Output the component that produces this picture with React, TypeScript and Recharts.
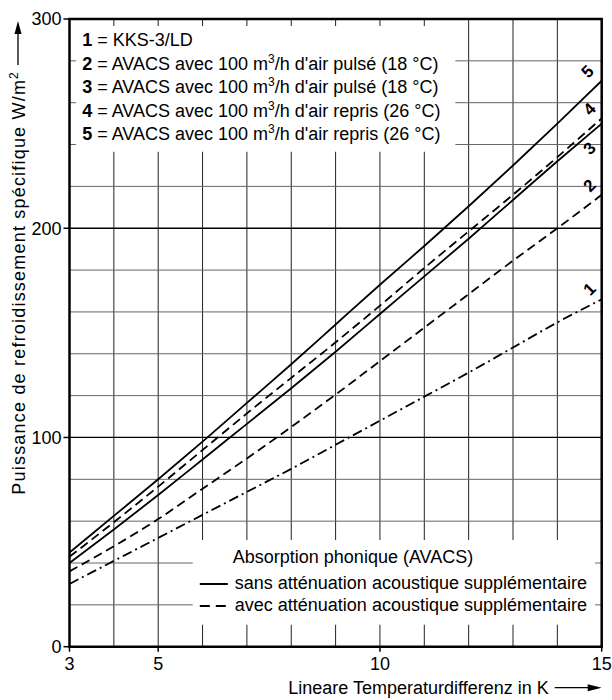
import React from 'react';
import { LineChart, Line, XAxis, YAxis, ReferenceLine, ReferenceArea, LabelList, CartesianGrid } from 'recharts';

// ---- data ----
const tempDiff = [3, 4, 5, 6, 7, 8, 9, 10, 11, 12, 13, 14, 15];
const curve1 = [30, 41, 52, 63, 74, 85, 96.5, 108, 119.5, 131, 143, 155, 166];
const curve2 = [36, 48, 61, 75.5, 90, 105, 120.5, 136.5, 152.5, 168.5, 184.5, 200, 216];
const curve3 = [40, 56, 72.5, 89.5, 106.5, 123.5, 141, 159, 177, 195, 213.5, 232, 250];
const curve4 = [43, 59.5, 76.5, 94, 111.5, 128.5, 145.5, 163, 181, 198.5, 216, 234, 252.5];
const curve5 = [45, 62.5, 80, 98, 116.5, 135, 154, 173, 191.5, 210.5, 230, 250, 270.5];

const xTicks = [3, 5, 10, 15];
const yTicks = [0, 100, 200, 300];
const gridX = [4, 5, 6, 7, 8, 9, 10, 11, 12, 13, 14];
const gridY = [20, 40, 60, 80, 120, 140, 160, 180, 220, 240, 260, 280];
const majorY = [100, 200];

const legendNumbers = ['1', '2', '3', '4', '5'];
const legendPre = ['KKS-3/LD', 'AVACS avec 100 m', 'AVACS avec 100 m', 'AVACS avec 100 m', 'AVACS avec 100 m'];
const legendSup = ['', '3', '3', '3', '3'];
const legendPost = ['', "/h d'air pulsé (18 °C)", "/h d'air pulsé (18 °C)", "/h d'air repris (26 °C)", "/h d'air repris (26 °C)"];
const absTitle = 'Absorption phonique (AVACS)';
const absSolid = 'sans atténuation acoustique supplémentaire';
const absDashed = 'avec atténuation acoustique supplémentaire';
const yLabel = 'Puissance de refroidissement spécifique W/m';
const xLabel = 'Lineare Temperaturdifferenz in K';

const data = tempDiff.map((t, i) => ({
  t,
  c1: curve1[i],
  c2: curve2[i],
  c3: curve3[i],
  c4: curve4[i],
  c5: curve5[i],
}));

const FONT = '"Liberation Sans", Arial, Helvetica, sans-serif';
const FS = 18;

const seriesStyle = [
  { key: 'c1', name: '1', dash: '10 4 2 4', dx: -12, dy: -10 },
  { key: 'c2', name: '2', dash: '9 5', dx: -12, dy: -9 },
  { key: 'c3', name: '3', dash: undefined, dx: -12, dy: 25 },
  { key: 'c4', name: '4', dash: '9 5', dx: -12, dy: -9 },
  { key: 'c5', name: '5', dash: undefined, dx: -14, dy: -9 },
];

const lastIndex = tempDiff.length - 1;

const makeCurveLabel = (name: string, dx: number, dy: number) => (props: any) => {
  const { x, y, index } = props;
  if (index !== lastIndex) return null;
  return (
    <text
      transform={`translate(${x + dx},${y + dy}) rotate(-45)`}
      textAnchor="middle"
      dominantBaseline="central"
      fontFamily={FONT}
      fontWeight="bold"
      fontSize={17}
      fill="#000"
    >
      {name}
    </text>
  );
};

const TopLegend = (props: any) => {
  const vb = props.viewBox || {};
  const x0 = vb.x + 6;
  const y0 = vb.y + 20;
  return (
    <g fontFamily={FONT} fontSize={FS} fill="#000">
      {legendNumbers.map((n, i) => (
        <text key={n} x={x0} y={y0 + i * 23.6}>
          <tspan fontWeight="bold">{n}</tspan>
          <tspan>{' = ' + legendPre[i]}</tspan>
          {legendSup[i] ? (
            <tspan fontSize={12} dy={-7}>{legendSup[i]}</tspan>
          ) : null}
          {legendPost[i] ? <tspan dy={legendSup[i] ? 7 : 0}>{legendPost[i]}</tspan> : null}
        </text>
      ))}
    </g>
  );
};

const BottomLegend = (props: any) => {
  const vb = props.viewBox || {};
  const x0 = vb.x;
  const y0 = vb.y;
  return (
    <g fontFamily={FONT} fontSize={FS} fill="#000">
      <text x={x0 + 40} y={y0 + 23}>{absTitle}</text>
      <line x1={x0 + 7} x2={x0 + 35} y1={y0 + 44} y2={y0 + 44} stroke="#000" strokeWidth={2} />
      <text x={x0 + 42} y={y0 + 49}>{absSolid}</text>
      <line x1={x0 + 7} x2={x0 + 35} y1={y0 + 66} y2={y0 + 66} stroke="#000" strokeWidth={2} strokeDasharray="10 6" />
      <text x={x0 + 42} y={y0 + 71}>{absDashed}</text>
    </g>
  );
};

const YAxisLabel = (props: any) => {
  const vb = props.viewBox || {};
  const cx = vb.x + 10;
  const top = vb.y;
  const textEnd = top + 52;
  const bx = cx + 7;
  return (
    <g>
      <text
        transform={`translate(${bx},${textEnd}) rotate(-90)`}
        textAnchor="end"
        fontFamily={FONT}
        fontSize={FS}
        letterSpacing={1.2}
        fill="#000"
      >
        {yLabel}
        <tspan fontSize={12} dy={-7}>2</tspan>
      </text>
      <line x1={cx} x2={cx} y1={textEnd - 6} y2={top + 10} stroke="#000" strokeWidth={1.3} />
      <path d={`M ${cx} ${top + 2} L ${cx - 3.5} ${top + 15} L ${cx + 3.5} ${top + 15} Z`} fill="#000" />
    </g>
  );
};

const XAxisLabel = (props: any) => {
  const vb = props.viewBox || {};
  const right = vb.x + vb.width;
  const base = vb.y + 47;
  return (
    <g>
      <text x={right - 53} y={base} textAnchor="end" fontFamily={FONT} fontSize={FS} fill="#000">
        {xLabel}
      </text>
      <line x1={right - 47} x2={right - 10} y1={base - 6} y2={base - 6} stroke="#000" strokeWidth={1.3} />
      <path d={`M ${right} ${base - 6} L ${right - 14} ${base - 9.5} L ${right - 14} ${base - 2.5} Z`} fill="#000" />
    </g>
  );
};

export default function App() {
  return (
    <div
      style={{
        width: 612,
        height: 700,
        boxSizing: 'border-box',
        padding: '8px 0 0 8px',
        margin: 0,
        overflow: 'hidden',
        background: '#fff',
      }}
    >
      <style>{'html,body{margin:0;padding:0;overflow:hidden;}'}</style>
      <LineChart
        width={604}
        height={692}
        data={data}
        margin={{ top: 11, right: 10.3, bottom: 0, left: 0 }}
      >
        <CartesianGrid
          horizontal={false}
          verticalValues={gridX}
          stroke="#222"
          strokeWidth={1}
          strokeOpacity={1}
        />
        <CartesianGrid
          vertical={false}
          horizontalValues={gridY}
          stroke="#666"
          strokeWidth={1}
          strokeOpacity={1}
        />
        <XAxis
          dataKey="t"
          type="number"
          domain={[3, 15]}
          ticks={xTicks}
          allowDataOverflow
          tickSize={5}
          tickMargin={6}
          axisLine={false}
          tickLine={{ stroke: '#000', strokeWidth: 1.5 }}
          tick={{ fill: '#000', fontSize: FS, fontFamily: FONT }}
          height={53.3}
          label={XAxisLabel}
        />
        <YAxis
          type="number"
          domain={[0, 300]}
          ticks={yTicks}
          allowDataOverflow
          tickSize={6}
          tickMargin={2}
          axisLine={false}
          tickLine={{ stroke: '#000', strokeWidth: 1.5 }}
          tick={{ fill: '#000', fontSize: FS, fontFamily: FONT }}
          width={61.5}
          label={YAxisLabel}
        />
        {majorY.map((v) => (
          <ReferenceLine key={'gy' + v} y={v} stroke="#000" strokeWidth={1.3} />
        ))}
        <ReferenceArea x1={3.15} x2={11.7} y1={236.5} y2={296.7} fill="#fff" fillOpacity={1} stroke="none" label={TopLegend} />
        <ReferenceArea x1={5.78} x2={14.85} y1={10.5} y2={51} fill="#fff" fillOpacity={1} stroke="none" label={BottomLegend} />
        {seriesStyle.map((s) => (
          <Line
            key={s.key}
            dataKey={s.key}
            type="monotone"
            stroke="#000"
            strokeWidth={1.8}
            strokeDasharray={s.dash}
            dot={false}
            activeDot={false}
            isAnimationActive={false}
          >
            <LabelList dataKey={s.key} content={makeCurveLabel(s.name, s.dx, s.dy)} />
          </Line>
        ))}
        <ReferenceArea x1={3} x2={15} y1={0} y2={300} fill="none" stroke="#000" strokeWidth={2.5} />
      </LineChart>
    </div>
  );
}
